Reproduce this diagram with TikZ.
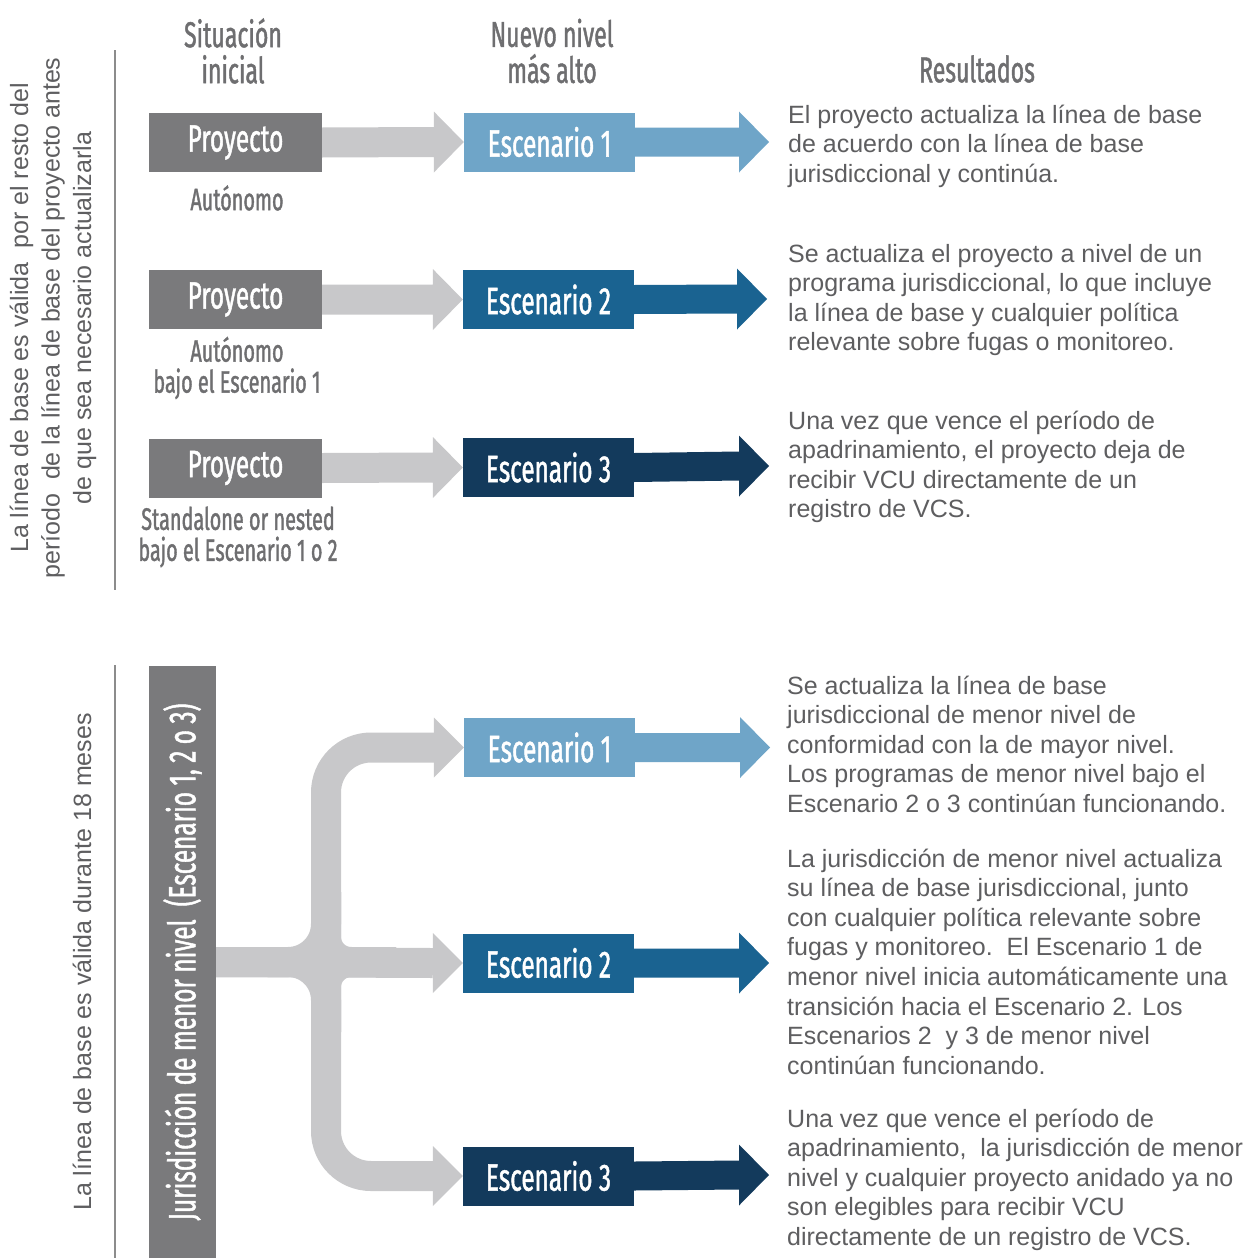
\documentclass[tikz,border=0pt]{standalone}
\usepackage{fontspec}
\setmainfont{Liberation Sans}
\newfontfamily\cond[FakeStretch=0.64,FakeBold=1.2]{Fira Sans}
\usetikzlibrary{calc}
\definecolor{txt}{HTML}{5E5E60}
\definecolor{headc}{HTML}{6E6E70}
\definecolor{boxgray}{HTML}{7A7A7C}
\definecolor{arrgray}{HTML}{C8C8CA}
\definecolor{esca}{HTML}{6FA5C8}
\definecolor{escb}{HTML}{1A6391}
\definecolor{escc}{HTML}{133A5C}
\definecolor{rulec}{HTML}{8C8C8C}
\newcommand{\grayarrow}[2]{%
  \fill[arrgray] ($(#1.east)+(0,-15)$) -- ($(#2.west)+(-30,-15)$) -- ($(#2.west)+(-30,-30.5)$) -- (#2.west)
    -- ($(#2.west)+(-30,30.5)$) -- ($(#2.west)+(-30,15)$) -- ($(#1.east)+(0,15)$) -- cycle;}
\newcommand{\colarrow}[3]{%
  \fill[#3] ($(#1.east)+(0,-14.5)$) -- ($(#2)+(-30,-14.5)$) -- ($(#2)+(-30,-30.5)$) -- (#2)
    -- ($(#2)+(-30,30.5)$) -- ($(#2)+(-30,14.5)$) -- ($(#1.east)+(0,14.5)$) -- cycle;}
\newcommand{\headonly}[1]{%
  \fill[arrgray] ($(#1.west)+(-30,-30)$) -- (#1.west) -- ($(#1.west)+(-30,30)$) -- cycle;}
\begin{document}
\begin{tikzpicture}[x=1pt,y=-1pt,
  pbox/.style={rectangle, inner sep=0, minimum width=173, minimum height=59, fill=boxgray, text=white,
    font=\cond\fontsize{38}{42}\selectfont},
  ebox/.style={rectangle, inner sep=0, minimum width=171, minimum height=59, text=white,
    font=\cond\fontsize{38}{42}\selectfont},
  hd/.style={text=headc, font=\cond\fontsize{36}{36}\selectfont, align=center, inner sep=0},
  sub/.style={text=headc, font=\cond\fontsize{31}{31}\selectfont, align=center, inner sep=0},
  res/.style={text=txt, font=\fontsize{25}{29.6}\selectfont, align=left, anchor=base west, inner sep=0},
  side/.style={text=txt, font=\fontsize{25}{31.5}\selectfont, align=center, rotate=90, inner sep=0},
  rule/.style={draw=rulec, line width=2},
  branch/.style={draw=arrgray, line width=30},
]
\useasboundingbox[fill=white] (0,0) rectangle (1257,1258);

% ---------- top section ----------
\draw[rule] (115,50) -- (115,590);
\node[side] (sideA) at (53,318) {La línea de base es válida\ \ por el resto del\\período\ \ de la línea de base del proyecto antes\\de que sea necesario actualizarla};

\node[hd] (h1) at (233,51) {Situación\\inicial};
\node[hd] (h2) at (552,51) {Nuevo nivel\\más alto};
\node[hd] (h3) at (977,69) {Resultados};

\node[pbox] (p1) at (235.5,142.5) {Proyecto};
\node[pbox] (p2) at (235.5,299.5) {Proyecto};
\node[pbox] (p3) at (235.5,468) {Proyecto};

\node[sub] (s1) at (237,198) {Autónomo};
\node[sub] (s2) at (237,368) {Autónomo\\bajo el Escenario 1};
\node[sub] (s3) at (238,537) {Standalone or nested\\bajo el Escenario 1 o 2};

\node[ebox, fill=esca] (e1) at (549.5,142) {Escenario 1};
\node[ebox, fill=escb] (e2) at (548.5,299.5) {Escenario 2};
\node[ebox, fill=escc] (e3) at (548.5,467.5) {Escenario 3};

\coordinate (t1) at (769,142);
\coordinate (t2) at (767,299);
\coordinate (t3) at (769,466);

\grayarrow{p1}{e1}
\grayarrow{p2}{e2}
\grayarrow{p3}{e3}
\colarrow{e1}{t1}{esca}
\colarrow{e2}{t2}{escb}
\colarrow{e3}{t3}{escc}

% base anchor = baseline of the last line
\node[res] (r1) at (788,182.2) {El proyecto actualiza la línea de base\\de acuerdo con la línea de base\\jurisdiccional y continúa.};
\node[res] (r2) at (788,350.8) {Se actualiza el proyecto a nivel de un\\programa jurisdiccional, lo que incluye\\la línea de base y cualquier política\\relevante sobre fugas o monitoreo.};
\node[res] (r3) at (788,517.8) {Una vez que vence el período de\\apadrinamiento, el proyecto deja de\\recibir VCU directamente de un\\registro de VCS.};

% ---------- bottom section ----------
\draw[rule] (115,665) -- (115,1258);
\node[side] (sideB) at (82,962) {La línea de base es válida durante 18 meses};

\node[rectangle, inner sep=0, minimum width=67, minimum height=592, fill=boxgray] (jur) at (182.5,962) {};
\node[rotate=90, text=white, inner sep=0, font=\cond\fontsize{38}{40}\selectfont] (jurt) at (jur.center) {Jurisdicción de menor nivel\ \ (Escenario 1, 2 o 3)};

\node[ebox, fill=esca] (f1) at (549.5,747.5) {Escenario 1};
\node[ebox, fill=escb] (f2) at (548.5,963) {Escenario 2};
\node[ebox, fill=escc] (f3) at (548.5,1176) {Escenario 3};

\coordinate (u1) at (770,747.5);
\coordinate (u2) at (769,963);
\coordinate (u3) at (769,1175);
\coordinate (j) at (326,962);

% branching gray connector
\draw[branch, rounded corners=45] ($(f1.west)+(-30,0)$) -- (j |- f1.west) -- (j);
\draw[branch, rounded corners=45] (j) -- (j |- f3.west) -- ($(f3.west)+(-30,0)$);
\draw[branch] (jur.east) -- ($(f2.west)+(-30,0)$);
\draw[branch, rounded corners=38] (jur.east) -- (j) -- ($(j)+(0,-70)$);
\draw[branch, rounded corners=38] (jur.east) -- (j) -- ($(j)+(0,70)$);
\draw[branch, rounded corners=25] ($(j)+(0,-70)$) -- (j) -- ($(j)+(70,0)$);
\draw[branch, rounded corners=25] ($(j)+(0,70)$) -- (j) -- ($(j)+(70,0)$);
\headonly{f1}
\headonly{f2}
\headonly{f3}

\colarrow{f1}{u1}{esca}
\colarrow{f2}{u2}{escb}
\colarrow{f3}{u3}{escc}

\node[res] (r4) at (787,812.4) {Se actualiza la línea de base\\jurisdiccional de menor nivel de\\conformidad con la de mayor nivel.\\Los programas de menor nivel bajo el\\Escenario 2 o 3 continúan funcionando.};
\node[res] (r5) at (787,1074.2) {La jurisdicción de menor nivel actualiza\\su línea de base jurisdiccional, junto\\con cualquier política relevante sobre\\fugas y monitoreo.\ \ El Escenario 1 de\\menor nivel inicia automáticamente una\\transición hacia el Escenario 2. Los\\Escenarios 2\ \ y 3 de menor nivel\\continúan funcionando.};
\node[res] (r6) at (787,1245.4) {Una vez que vence el período de\\apadrinamiento,\ \ la jurisdicción de menor\\nivel y cualquier proyecto anidado ya no\\son elegibles para recibir VCU\\directamente de un registro de VCS.};
\end{tikzpicture}
\end{document}
